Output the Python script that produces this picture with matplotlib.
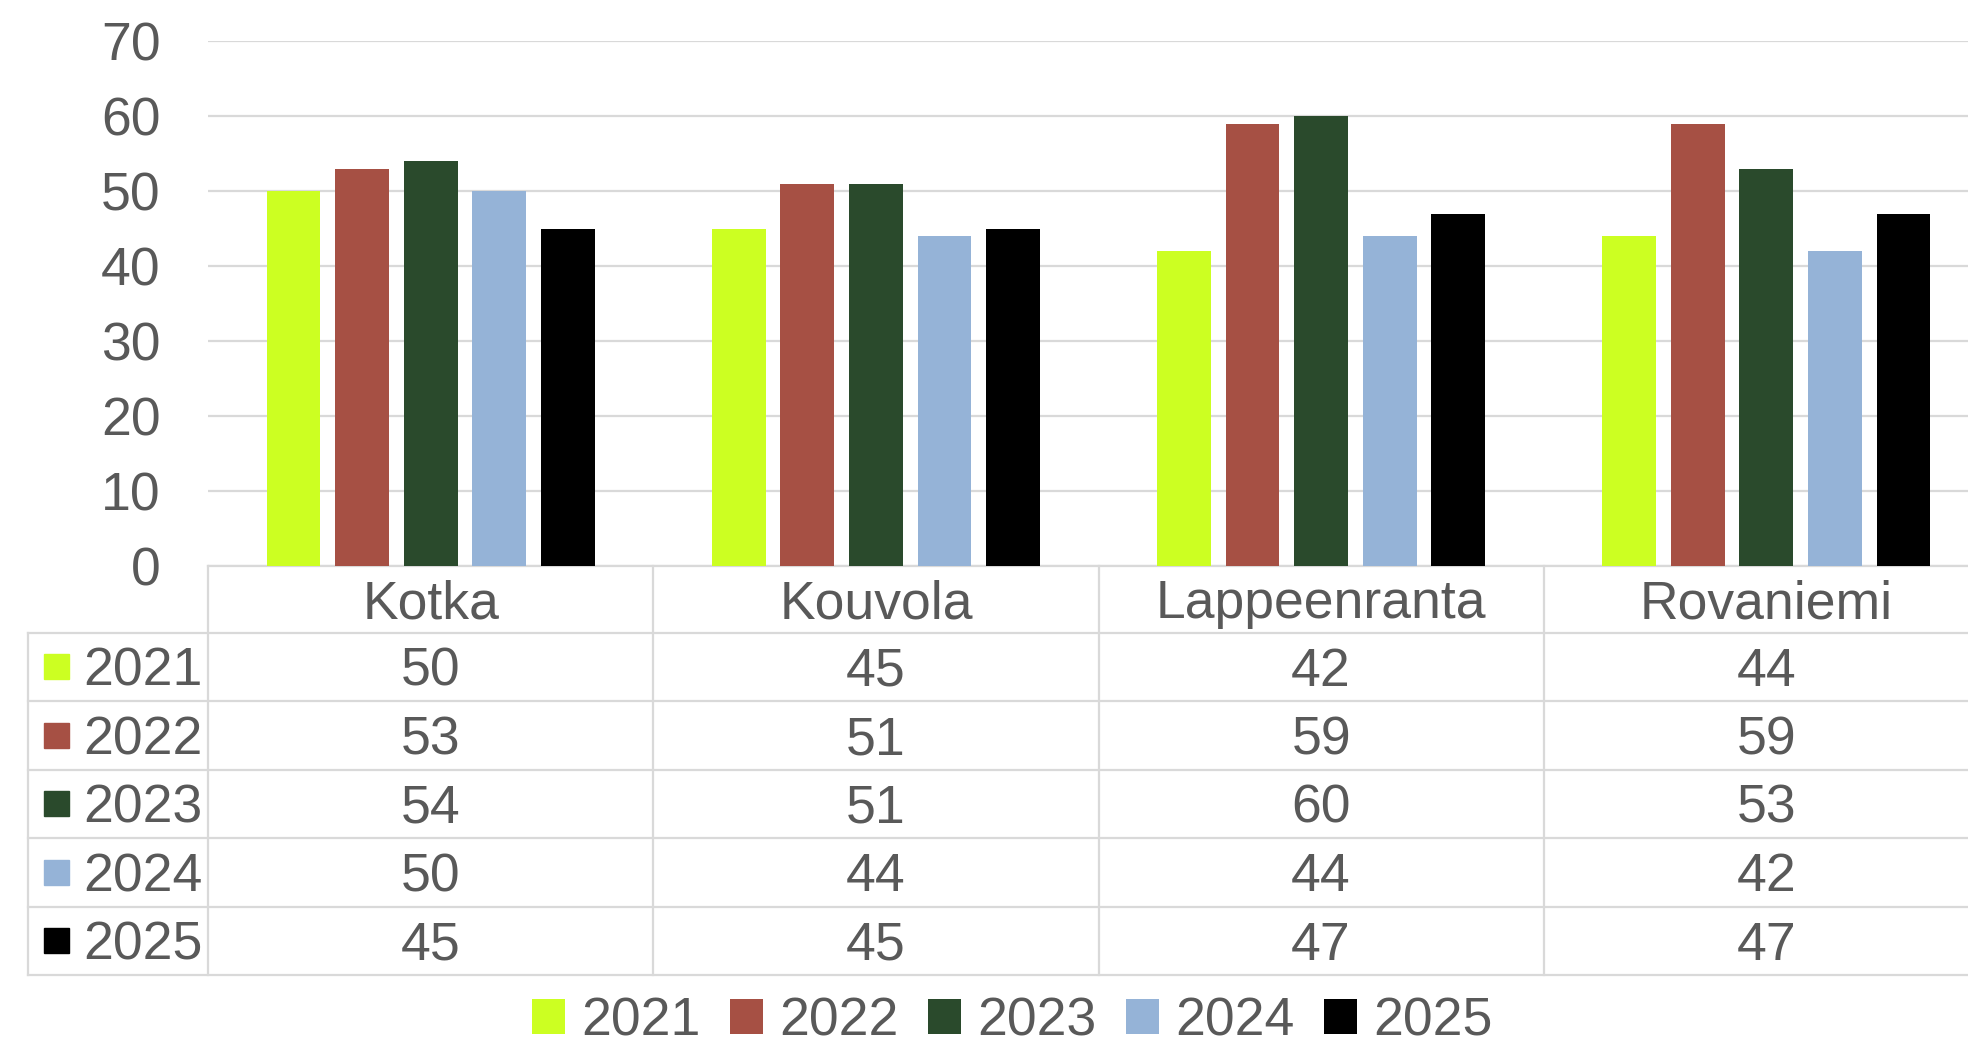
import matplotlib.pyplot as plt
from matplotlib.patches import Patch
import numpy as np

plt.rcParams['font.family'] = ['Liberation Sans', 'DejaVu Sans']

# data
cities = ['Kotka', 'Kouvola', 'Lappeenranta', 'Rovaniemi']
years = ['2021', '2022', '2023', '2024', '2025']
v2021 = [50, 45, 42, 44]
v2022 = [53, 51, 59, 59]
v2023 = [54, 51, 60, 53]
v2024 = [50, 44, 44, 42]
v2025 = [45, 45, 47, 47]
series = [v2021, v2022, v2023, v2024, v2025]
colors = ['#CCFF22', '#A65044', '#2A4A2C', '#95B3D7', '#000000']

text_col = '#595959'
line_col = '#D9D9D9'
fs = 38.5

W, H = 1968, 1046
fig = plt.figure(figsize=(W / 100, H / 100), dpi=100)
ax = fig.add_axes([208 / W, 1 - 566 / H, 1781 / W, 525 / H])

x = np.arange(len(cities))
bw = 0.121
step = 0.154
for i, vals in enumerate(series):
    ax.bar(x + (i - 2) * step, vals, width=bw, color=colors[i], zorder=3)

ax.set_xlim(-0.5, len(cities) - 0.5)
ax.set_ylim(0, 70)
ax.set_yticks(range(0, 71, 10))
ax.tick_params(axis='y', length=0, pad=34, labelsize=fs, labelcolor=text_col)
ax.set_xticks([])
ax.grid(axis='y', color=line_col, lw=1.6, zorder=0)
for s in ['top', 'right', 'left']:
    ax.spines[s].set_visible(False)
ax.spines['bottom'].set_color(line_col)
ax.spines['bottom'].set_linewidth(1.6)

# data table under the axis
tr = ax.get_xaxis_transform()
ax_h = 525.0
hdr = 66.6 / ax_h
row = 68.5 / ax_h
shift = 5 / ax_h  # text sits a bit below the cell middle
left_x = -0.5 - (208 - 27.6) / 445.2  # left edge of the row-label column

lkw = dict(color=line_col, lw=1.6, transform=tr, clip_on=False)
y_bottom = -hdr - row * len(years)
ax.plot([left_x, left_x], [-hdr, y_bottom], **lkw)
for e in np.arange(-0.5, len(cities), 1.0):
    ax.plot([e, e], [0, y_bottom], **lkw)
for k in range(len(years) + 1):
    yy = -hdr - row * k
    ax.plot([left_x, len(cities)], [yy, yy], **lkw)

for j, c in enumerate(cities):
    ax.text(j, -hdr / 2 - shift, c, transform=tr, ha='center', va='center',
            fontsize=fs, color=text_col)
for i, (yr, vals) in enumerate(zip(years, series)):
    yc = -hdr - row * (i + 0.5)
    for j, v in enumerate(vals):
        ax.text(j, yc - shift, str(v), transform=tr, ha='center', va='center',
                fontsize=fs, color=text_col)
    ax.add_patch(plt.Rectangle((left_x + 16 / 445.2, yc - 12.5 / ax_h), 25 / 445.2, 25 / ax_h,
                               transform=tr, color=colors[i], clip_on=False))
    ax.text(left_x + 56 / 445.2, yc - shift, yr, transform=tr, ha='left', va='center',
            fontsize=fs, color=text_col)

# legend at the bottom
handles = [Patch(facecolor=c, edgecolor='none') for c in colors]
fig.legend(handles, years, loc='center', bbox_to_anchor=(1012 / W, 1 - 1021 / H), ncol=5,
           frameon=False, fontsize=fs, labelcolor=text_col, handlelength=0.62,
           handleheight=0.62, handletextpad=0.3, columnspacing=0.55,
           borderpad=0.1, borderaxespad=0)

fig.savefig('out.png', dpi=100)
